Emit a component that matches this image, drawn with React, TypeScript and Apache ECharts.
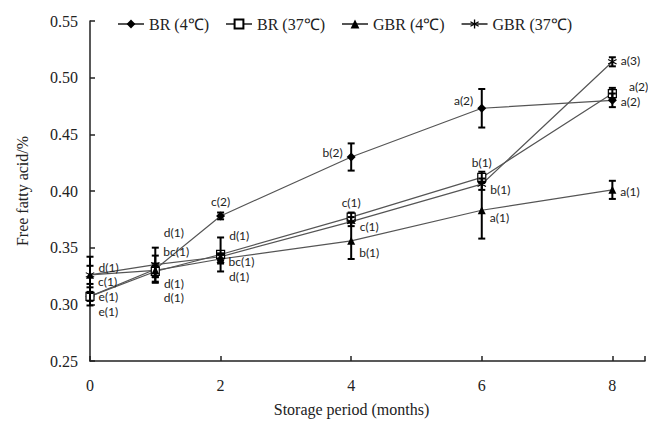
import React, { useEffect, useRef } from "react";
import * as echarts from "echarts";

const months = [0, 1, 2, 4, 6, 8];
const seriesNames = ["BR (4℃)", "BR (37℃)", "GBR (4℃)", "GBR (37℃)"];
const br4 = [0.307, 0.331, 0.378, 0.43, 0.473, 0.48];
const br37 = [0.307, 0.329, 0.344, 0.377, 0.412, 0.486];
const gbr4 = [0.326, 0.33, 0.34, 0.356, 0.383, 0.401];
const gbr37 = [0.326, 0.335, 0.342, 0.373, 0.406, 0.514];
const br4Err = [0.008, 0.012, 0.003, 0.012, 0.017, 0.006];
const br37Err = [0.004, 0.005, 0.015, 0.004, 0.005, 0.005];
const gbr4Err = [0.008, 0.006, 0.004, 0.016, 0.025, 0.008];
const gbr37Err = [0.016, 0.015, 0.003, 0.004, 0.005, 0.004];
const br4Letters = ["e(1)", "d(1)", "c(2)", "b(2)", "a(2)", "a(2)"];
const br37Letters = ["e(1)", "d(1)", "d(1)", "c(1)", "b(1)", "a(2)"];
const gbr4Letters = ["c(1)", "bc(1)", "bc(1)", "b(1)", "a(1)", "a(1)"];
const gbr37Letters = ["d(1)", "d(1)", "d(1)", "c(1)", "b(1)", "a(3)"];
const yMin = 0.25;
const yMax = 0.55;
const yStep = 0.05;
const xMin = 0;
const xMax = 8.5;
const xStep = 2;
const xLastTick = 8;

// label placement (style only): [position, dx, dy]
const br4Place: [string, number, number][] = [["right", 0, 15], ["right", 0, 28], ["top", 0, 0], ["left", 0, -5], ["left", 0, -8], ["right", 0, 1]];
const br37Place: [string, number, number][] = [["right", 0, 0], ["right", 0, 12], ["right", 0, -19], ["top", 0, 0], ["top", 0, 0], ["right", 8, -7]];
const gbr4Place: [string, number, number][] = [["right", 0, 7], ["right", 0, -19], ["right", 0, 2], ["right", 0, 12], ["right", 0, 7], ["right", 0, 2]];
const gbr37Place: [string, number, number][] = [["right", 0, -7], ["right", 0, -32], ["right", 0, 20], ["right", 0, 5], ["right", 0, 5], ["right", 0, -1]];

const asterisk =
  "path://M-0.7,-5L-0.7,5L0.7,5L0.7,-5Z M4.03,3.02L4.63,1.98L-4.03,-3.02L-4.63,-1.98Z M4.63,-1.98L4.03,-3.02L-4.63,1.98L-4.03,3.02Z";

const labelFont = { fontFamily: "Lato", fontSize: 12, color: "#222" };
const serif = "Liberation Serif";

function buildLine(name: string, vals: number[], letters: string[], place: [string, number, number][], symbol: string, size: number, fill: string) {
  return {
    name,
    type: "line",
    symbol,
    symbolSize: size,
    z: 3,
    lineStyle: { color: "#555", width: 1.2 },
    itemStyle: { color: fill, borderColor: "#000", borderWidth: fill === "#fff" ? 1.2 : 0 },
    data: months.map((m, i) => ({
      value: [m, vals[i]],
      label: {
        show: true,
        position: place[i][0],
        distance: 4,
        offset: [place[i][1], place[i][2]],
        formatter: letters[i],
        ...labelFont,
      },
    })),
  };
}

function buildErr(vals: number[], errs: number[]) {
  return {
    type: "custom",
    z: 4,
    silent: true,
    encode: { x: 0, y: 1 },
    data: months.map((m, i) => [m, vals[i], errs[i]]),
    renderItem: (params: any, api: any) => {
      const x = api.value(0);
      const y = api.value(1);
      const e = api.value(2);
      const t = api.coord([x, y + e]);
      const b = api.coord([x, y - e]);
      const w = 3.5;
      const st = { stroke: "#000", lineWidth: 2 };
      return {
        type: "group",
        children: [
          { type: "line", shape: { x1: t[0], y1: t[1], x2: b[0], y2: b[1] }, style: st },
          { type: "line", shape: { x1: t[0] - w, y1: t[1], x2: t[0] + w, y2: t[1] }, style: st },
          { type: "line", shape: { x1: b[0] - w, y1: b[1], x2: b[0] + w, y2: b[1] }, style: st },
        ],
      };
    },
  };
}

export default function App() {
  const ref = useRef<HTMLDivElement>(null);
  useEffect(() => {
    document.body.style.margin = "0";
    document.body.style.overflow = "hidden";
    document.documentElement.style.overflow = "hidden";
    const chart = echarts.init(ref.current!, null, { renderer: "svg" });
    chart.setOption({
      animation: false,
      backgroundColor: "#fff",
      grid: { left: 90, top: 21, right: 0, bottom: 68 },
      legend: {
        data: seriesNames,
        top: 11,
        left: 112,
        itemWidth: 26,
        itemHeight: 11,
        itemGap: 16,
        textStyle: { fontFamily: serif, fontSize: 16, color: "#222" },
      },
      xAxis: {
        type: "value",
        min: xMin,
        max: xMax,
        interval: xStep,
        name: "Storage period (months)",
        nameLocation: "middle",
        nameGap: 40,
        nameTextStyle: { fontFamily: serif, fontSize: 16, color: "#222", padding: [0, 32, 0, 0] },
        axisLine: { lineStyle: { color: "#222", width: 1.5 } },
        axisTick: { inside: true, length: 5, lineStyle: { color: "#222", width: 1.5 } },
        axisLabel: {
          fontFamily: serif,
          fontSize: 16,
          color: "#222",
          margin: 16,
          formatter: (v: number) => (v > xLastTick ? "" : String(v)),
        },
        splitLine: { show: false },
      },
      yAxis: {
        type: "value",
        min: yMin,
        max: yMax,
        interval: yStep,
        name: "Free fatty acid/%",
        nameLocation: "middle",
        nameGap: 60,
        nameTextStyle: { fontFamily: serif, fontSize: 16, color: "#222" },
        axisLine: { lineStyle: { color: "#222", width: 1.5 } },
        axisTick: { inside: true, length: 5, lineStyle: { color: "#222", width: 1.5 } },
        axisLabel: { fontFamily: serif, fontSize: 16, color: "#222", margin: 12, formatter: (v: number) => v.toFixed(2) },
        splitLine: { show: false },
      },
      series: [
        buildErr(br4, br4Err),
        buildErr(br37, br37Err),
        buildErr(gbr4, gbr4Err),
        buildErr(gbr37, gbr37Err),
        buildLine(seriesNames[0], br4, br4Letters, br4Place, "diamond", 9, "#000"),
        buildLine(seriesNames[1], br37, br37Letters, br37Place, "rect", 8, "#fff"),
        buildLine(seriesNames[2], gbr4, gbr4Letters, gbr4Place, "triangle", 8, "#000"),
        buildLine(seriesNames[3], gbr37, gbr37Letters, gbr37Place, asterisk, 9, "#000"),
      ],
    });
    return () => chart.dispose();
  }, []);
  return <div ref={ref} style={{ position: "fixed", left: 0, top: 0, width: 648, height: 429 }} />;
}
